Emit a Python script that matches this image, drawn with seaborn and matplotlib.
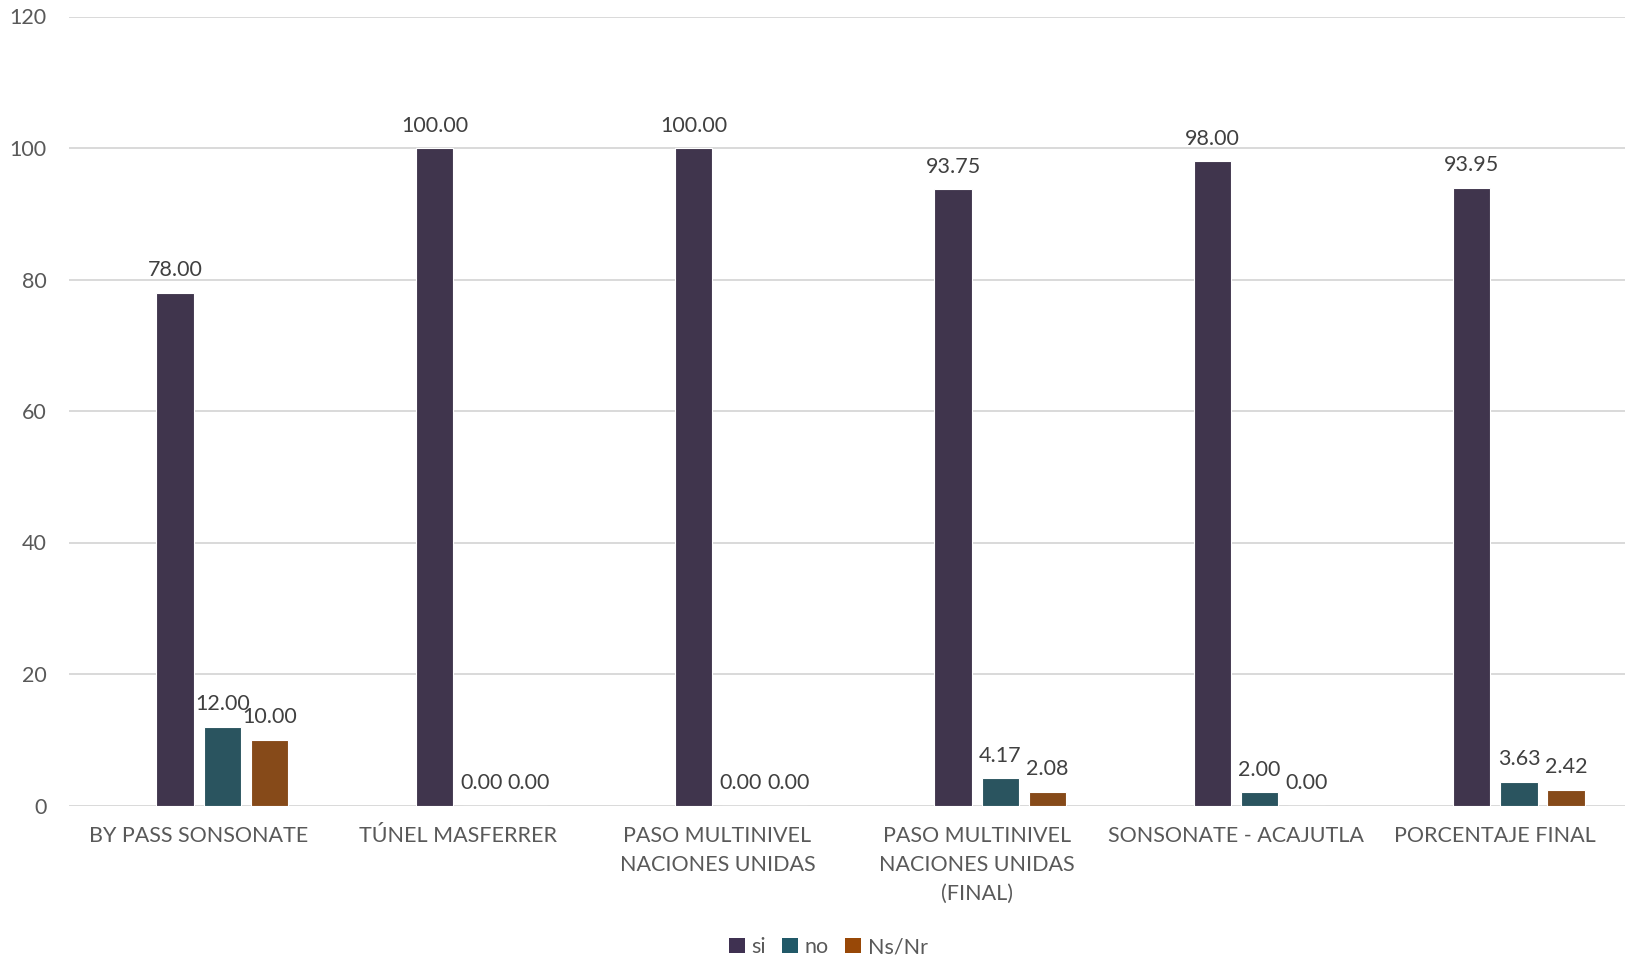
import numpy as np
import pandas as pd
import matplotlib
matplotlib.use("Agg")
import matplotlib.pyplot as plt
from matplotlib.patches import Patch
import seaborn as sns

categories = ["BY PASS SONSONATE", "TÚNEL MASFERRER", "PASO MULTINIVEL\nNACIONES UNIDAS",
              "PASO MULTINIVEL\nNACIONES UNIDAS\n(FINAL)", "SONSONATE - ACAJUTLA", "PORCENTAJE FINAL"]
series_names = ["si", "no", "Ns/Nr"]
si_vals = [78.00, 100.00, 100.00, 93.75, 98.00, 93.95]
no_vals = [12.00, 0.00, 0.00, 4.17, 2.00, 3.63]
ns_vals = [10.00, 0.00, 0.00, 2.08, 0.00, 2.42]
blank_vals = [0.0] * 6  # empty series occupying first slot (as in the original chart)
y_ticks = [0, 20, 40, 60, 80, 100, 120]

colors = {"_blank": "#FFFFFF", "si": "#3F3151", "no": "#215968", "Ns/Nr": "#984807"}

sns.set_theme(style="white")
plt.rcParams["font.family"] = ["Lato", "DejaVu Sans"]

rows = []
for name, vals in zip(["_blank"] + series_names, [blank_vals, si_vals, no_vals, ns_vals]):
    for c, v in zip(categories, vals):
        rows.append({"cat": c, "serie": name, "val": v})
df = pd.DataFrame(rows)

fig = plt.figure(figsize=(16.25, 9.61), dpi=100)
ax = fig.add_axes([69 / 1625, 1 - 805.5 / 961, 1 - 69 / 1625, (805.5 - 16.5) / 961])

sns.barplot(data=df, x="cat", y="val", hue="serie", order=categories,
            hue_order=["_blank"] + series_names, palette=colors,
            width=0.728, gap=0.21, edgecolor="white", linewidth=0.8,
            errorbar=None, legend=False, ax=ax, zorder=3)

# hide the empty first series
for p in ax.containers[0]:
    p.set_visible(False)

for cont in ax.containers[1:]:
    ax.bar_label(cont, fmt="%.2f", padding=9, color="#404040", fontsize=15.5)

ax.set_ylim(0, 120)
ax.set_xlim(-0.5, len(categories) - 0.5)
ax.set_yticks(y_ticks)
ax.yaxis.grid(True, color="#D9D9D9", linewidth=1.4, zorder=0)
ax.set_axisbelow(True)
for s in ax.spines.values():
    s.set_visible(False)
ax.tick_params(axis="both", length=0, colors="#595959", labelsize=15.5)
ax.tick_params(axis="y", pad=16)
ax.tick_params(axis="x", pad=15)
for lab in ax.get_xticklabels():
    lab.set_linespacing(1.55)
    lab.set_verticalalignment("top")
ax.set_xlabel("")
ax.set_ylabel("")

handles = [Patch(facecolor=colors[n], edgecolor="none", label=n) for n in series_names]
fig.legend(handles=handles, loc="center", bbox_to_anchor=(0.5096, 1 - 947 / 961), ncol=3,
           frameon=False, fontsize=15.5, handlelength=0.75, handleheight=0.75,
           handletextpad=0.3, columnspacing=0.75, labelcolor="#595959")

fig.savefig("out.png", dpi=100)
